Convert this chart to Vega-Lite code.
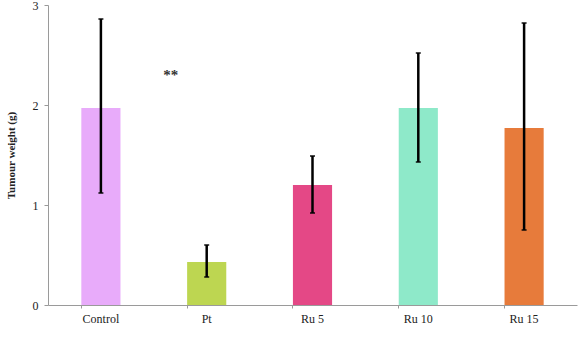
{
  "$schema": "https://vega.github.io/schema/vega-lite/v6.json",
  "autosize": "none",
  "width": 529,
  "height": 300,
  "padding": {"left": 48, "top": 5, "right": 4, "bottom": 38},
  "background": "white",
  "config": {"view": {"stroke": null}, "font": "Liberation Serif"},
  "data": {"values": [
    {"group": "Control", "weight": 1.97, "lo": 1.12, "hi": 2.86, "color": "#E8ABFA", "sig": ""},
    {"group": "Pt", "weight": 0.43, "lo": 0.28, "hi": 0.60, "color": "#BDD651", "sig": "**"},
    {"group": "Ru 5", "weight": 1.20, "lo": 0.92, "hi": 1.49, "color": "#E44886", "sig": ""},
    {"group": "Ru 10", "weight": 1.97, "lo": 1.43, "hi": 2.52, "color": "#8EE9C9", "sig": ""},
    {"group": "Ru 15", "weight": 1.77, "lo": 0.75, "hi": 2.82, "color": "#E77B3B", "sig": ""}
  ]},
  "encoding": {
    "x": {
      "field": "group", "type": "nominal", "sort": null,
      "scale": {"paddingInner": 0.63, "paddingOuter": 0.315},
      "axis": {
        "title": null, "labelAngle": 0, "labelFont": "Liberation Serif", "labelFontSize": 12,
        "labelColor": "#222", "domainColor": "#9a9a9a", "tickColor": "#9a9a9a",
        "tickSize": 3, "bandPosition": 0, "labelPadding": 5, "domainWidth": 1
      }
    }
  },
  "layer": [
    {
      "mark": {"type": "bar"},
      "encoding": {
        "y": {
          "field": "weight", "type": "quantitative",
          "scale": {"domain": [0, 3], "nice": false},
          "axis": {
            "title": "Tumour weight (g)", "titleFont": "Liberation Serif", "titleFontSize": 11,
            "titleFontWeight": "bold", "titleColor": "#222", "titlePadding": 16,
            "values": [0, 1, 2, 3], "format": "d", "grid": false, "labelFont": "Liberation Serif",
            "labelFontSize": 12, "labelColor": "#222", "domainColor": "#9a9a9a",
            "tickColor": "#9a9a9a", "tickSize": 4, "labelPadding": 6
          }
        },
        "color": {"field": "color", "type": "nominal", "scale": null, "legend": null}
      }
    },
    {
      "mark": {"type": "rule", "color": "black", "strokeWidth": 2.5},
      "encoding": {
        "y": {"field": "lo", "type": "quantitative"},
        "y2": {"field": "hi"}
      }
    },
    {
      "mark": {"type": "tick", "color": "black", "size": 5, "thickness": 2},
      "encoding": {"y": {"field": "hi", "type": "quantitative"}}
    },
    {
      "mark": {"type": "tick", "color": "black", "size": 5, "thickness": 2},
      "encoding": {"y": {"field": "lo", "type": "quantitative"}}
    },
    {
      "mark": {"type": "text", "dx": -36, "fontSize": 15, "fontWeight": "bold", "color": "#333", "baseline": "middle"},
      "encoding": {
        "y": {"datum": 2.3, "type": "quantitative"},
        "text": {"field": "sig"}
      }
    }
  ]
}
